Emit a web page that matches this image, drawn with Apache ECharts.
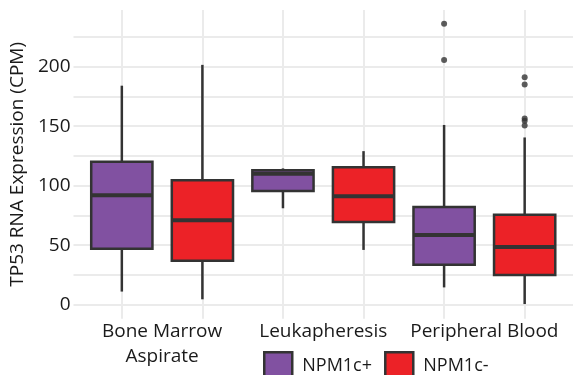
<!DOCTYPE html>
<html>
<head>
<meta charset="utf-8">
<script src="https://cdn.jsdelivr.net/npm/echarts@6/dist/echarts.min.js"></script>
<style>
  html, body { margin: 0; padding: 0; background: #fff; }
  #chart { width: 576px; height: 375px; }
</style>
</head>
<body>
<div id="chart"></div>
<script>
// ---- data ----
const categories = ['Bone Marrow\nAspirate', 'Leukapheresis', 'Peripheral Blood'];
const groups = ['NPM1c+', 'NPM1c-'];
// box statistics per category: [lower whisker, Q1, median, Q3, upper whisker]
const plusStats = [
  [11, 47, 92, 120, 184],
  [81, 95.5, 110, 113, 114.5],
  [14.5, 33.5, 58.5, 82, 151]
];
const minusStats = [
  [4.5, 37, 71, 104.5, 201.5],
  [46, 69.5, 91, 115.5, 129],
  [0.5, 25, 48.5, 75.5, 140.5]
];
const plusOutliers = [[], [], [236, 205.5]];
const minusOutliers = [[], [], [191, 185, 156.5, 154.5, 150.5]];
const yTickLabels = ['0', '50', '100', '150', '200'];
const groupColors = ['#8151A1', '#EC2227'];

// ---- build ----
const statsByGroup = [plusStats, minusStats];
const outliersByGroup = [plusOutliers, minusOutliers];
function boxX(ci, gi) { return ci * 2 + gi + 1; }

const BOX_W = 0.76;
function makeRender(color) {
  return function (params, api) {
    const x = api.value(0);
    const lo = api.coord([x, api.value(1)]);
    const q1 = api.coord([x, api.value(2)]);
    const md = api.coord([x, api.value(3)]);
    const q3 = api.coord([x, api.value(4)]);
    const hi = api.coord([x, api.value(5)]);
    const w = api.size([BOX_W, 0])[0];
    const cx = lo[0];
    const ls = { stroke: '#333', lineWidth: 2.5 };
    return {
      type: 'group',
      children: [
        { type: 'line', shape: { x1: cx, y1: q3[1], x2: cx, y2: hi[1] }, style: ls },
        { type: 'line', shape: { x1: cx, y1: q1[1], x2: cx, y2: lo[1] }, style: ls },
        { type: 'rect', shape: { x: cx - w / 2, y: q3[1], width: w, height: q1[1] - q3[1] },
          style: { fill: color, stroke: '#333', lineWidth: 2.5 } },
        { type: 'line', shape: { x1: cx - w / 2, y1: md[1], x2: cx + w / 2, y2: md[1] },
          style: { stroke: '#333', lineWidth: 4 } }
      ]
    };
  };
}

const series = [];
groups.forEach(function (g, gi) {
  const data = statsByGroup[gi].map(function (s, ci) { return [boxX(ci, gi)].concat(s); });
  series.push({
    name: g,
    type: 'custom',
    xAxisIndex: 0,
    yAxisIndex: 0,
    itemStyle: { color: groupColors[gi] },
    encode: { x: 0, y: [1, 2, 3, 4, 5] },
    renderItem: makeRender(groupColors[gi]),
    data: data,
    z: 2
  });
});
groups.forEach(function (g, gi) {
  const pts = [];
  outliersByGroup[gi].forEach(function (arr, ci) {
    arr.forEach(function (v) { pts.push([boxX(ci, gi), v]); });
  });
  series.push({
    name: g + ' outliers',
    type: 'scatter',
    xAxisIndex: 0,
    yAxisIndex: 0,
    symbol: 'circle',
    symbolSize: 6,
    itemStyle: { color: '#333' },
    data: pts,
    z: 3
  });
});

const font = '"Open Sans", sans-serif';
const option = {
  animation: false,
  backgroundColor: '#fff',
  grid: { left: 70, right: -8, top: 10, bottom: 56.3 },
  xAxis: [
    {
      type: 'value', min: 0.4, max: 6.6, minInterval: 1, maxInterval: 1,
      axisLine: { show: false }, axisTick: { show: false }, axisLabel: { show: false },
      splitLine: { show: true, showMinLine: false, showMaxLine: false,
        lineStyle: { color: '#EBEBEB', width: 2 } }
    },
    {
      type: 'value', min: 0.9, max: 7.1, minInterval: 2, maxInterval: 2,
      position: 'bottom',
      axisLine: { show: false }, axisTick: { show: false }, splitLine: { show: false },
      axisLabel: {
        show: true, margin: 0, color: '#1a1a1a', fontFamily: font, fontSize: 19, lineHeight: 25,
        showMinLabel: true, showMaxLabel: true,
        formatter: function (v) {
          const k = Math.round(v);
          if (Math.abs(v - k) > 1e-6 || k % 2 !== 0) return '';
          return categories[k / 2 - 1] || '';
        }
      }
    }
  ],
  yAxis: {
    type: 'value', min: -11.8, max: 247.6, minInterval: 25, maxInterval: 25,
    name: 'TP53 RNA Expression (CPM)', nameLocation: 'middle', nameGap: 37,
    nameTextStyle: { color: '#1a1a1a', fontFamily: font, fontSize: 19 },
    axisLine: { show: false }, axisTick: { show: false },
    axisLabel: {
      margin: 3, color: '#1a1a1a', fontFamily: font, fontSize: 19,
      formatter: function (v) {
        const s = String(Math.round(v));
        return (Math.abs(v - Math.round(v)) < 1e-6 && yTickLabels.indexOf(s) >= 0) ? s : '';
      }
    },
    splitLine: { show: true, showMinLine: false, showMaxLine: false,
      lineStyle: { color: '#EBEBEB', width: 2 } }
  },
  legend: {
    left: 263, top: 351, orient: 'horizontal', padding: 0,
    itemWidth: 28, itemHeight: 28, itemGap: 12,
    textStyle: { color: '#1a1a1a', fontFamily: font, fontSize: 18, padding: [0, 0, 0, 5] },
    data: groups.map(function (g, gi) {
      return { name: g, icon: 'rect',
        itemStyle: { color: groupColors[gi], borderColor: '#333', borderWidth: 2.5 } };
    })
  },
  series: series
};

const chart = echarts.init(document.getElementById('chart'), null, { renderer: 'canvas' });
chart.setOption(option);
</script>
</body>
</html>
